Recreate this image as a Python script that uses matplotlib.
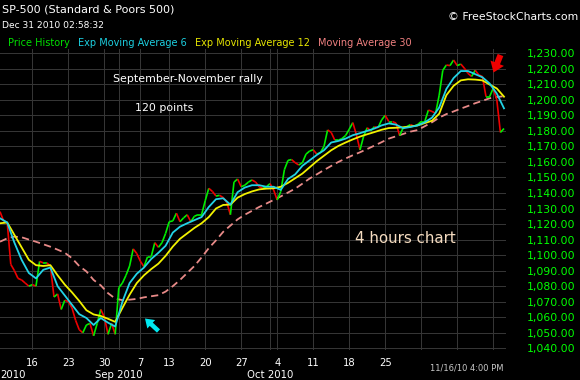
import numpy as np
import pandas as pd
import matplotlib
matplotlib.use("Agg")
import matplotlib.pyplot as plt
from matplotlib.collections import LineCollection
from matplotlib.patches import FancyArrow
from matplotlib.transforms import IdentityTransform

# ---------------- data ----------------
# S&P 500, 4-hour bars (2 bars per trading day), first bar = Aug 9 2010 (afternoon)
price = [1128, 1122, 1121, 1094, 1090, 1085, 1084, 1082, 1080, 1081,
         1080, 1096, 1095, 1095, 1093, 1073, 1075, 1065, 1071, 1070,
         1066, 1058, 1052, 1050, 1055, 1056, 1048, 1056, 1065, 1060,
         1049, 1056, 1049, 1079, 1082, 1087, 1093, 1104, 1101, 1096,
         1092.5, 1099, 1099, 1108, 1105, 1108, 1114, 1121.5, 1122, 1127,
         1121.5, 1124, 1126, 1121.5, 1125, 1126, 1126, 1135, 1143, 1141,
         1138, 1138.5, 1137, 1134, 1126, 1147, 1149, 1144, 1145, 1147,
         1148.4, 1147, 1144, 1143, 1144, 1146, 1142, 1135.5, 1141, 1155,
         1161, 1161.5, 1159.5, 1158, 1159.5, 1165, 1167, 1167.8, 1165, 1166,
         1170, 1180.6, 1179, 1174, 1174, 1175, 1177, 1181, 1185.3, 1177.5,
         1167.7, 1176.5, 1182, 1180, 1182.7, 1182, 1187, 1190, 1186, 1186,
         1185, 1177, 1182, 1182.7, 1184, 1183, 1184, 1186, 1186, 1193.4,
         1192.5, 1191.3, 1203, 1219, 1222.4, 1222, 1225.6, 1222, 1223, 1220.3,
         1217, 1215, 1219, 1216, 1215, 1202, 1202, 1207.4, 1200, 1179,
         1181.5]

# moving averages, one value per trading day (every second bar)
ema6 = [1123.7, 1121, 1108, 1097, 1088.5, 1085, 1090.5, 1092, 1080, 1074,
        1068, 1062, 1059.5, 1055, 1059.5, 1056.5, 1054, 1070, 1082, 1088,
        1092, 1097.5, 1101.5, 1106, 1114.5, 1118.3, 1120.5, 1122.5, 1124.5, 1131,
        1136, 1136.6, 1132.5, 1140.5, 1143.5, 1145, 1145, 1144, 1144, 1142,
        1149, 1152, 1157.5, 1161, 1164.5, 1167.5, 1172.5, 1173.5, 1175, 1177.2,
        1178.5, 1180, 1181.5, 1183.5, 1184.8, 1184, 1181.7, 1182.5, 1183.5, 1185.5,
        1188.5, 1195, 1207, 1214, 1218.5, 1218.5, 1216.5, 1214.5, 1210.5, 1204,
        1194.5]
ema12 = [1120.5, 1121, 1113, 1105, 1097, 1093.5, 1093, 1093.5, 1087, 1081,
         1076, 1070.5, 1064.5, 1061.8, 1060.8, 1059, 1057, 1066, 1074.5, 1082,
         1087, 1091, 1094.5, 1099.5, 1105.5, 1110.5, 1114, 1117.5, 1120.5, 1124.5,
         1130, 1132.3, 1132.5, 1137, 1139.3, 1141, 1142.3, 1142.8, 1143, 1144,
         1146.5, 1149.5, 1152.5, 1156.5, 1160.5, 1164, 1167.5, 1170.3, 1172.5, 1174.5,
         1176.3, 1177.8, 1179.2, 1180.7, 1181.8, 1182, 1182.3, 1182.8, 1183.5, 1185,
         1186.5, 1191, 1203, 1209, 1212.5, 1213.2, 1213, 1212.5, 1209.8, 1207.3,
         1202]
ma30 = [1108.6, 1110.8, 1111.9, 1111.5, 1110, 1108.6, 1107, 1105.4, 1103.5, 1101.5,
        1098, 1093, 1089.5, 1084, 1080.5, 1075.5, 1072, 1071, 1071.3, 1071.8,
        1072.8, 1073.5, 1074.2, 1076.5, 1080, 1084, 1088.5, 1093, 1098.5, 1104.5,
        1109.5, 1115, 1119, 1123, 1126, 1128.5, 1131, 1133.2, 1135.5, 1137.8,
        1140.3, 1142.8, 1146, 1149.3, 1152, 1154.8, 1157.4, 1160, 1162.2, 1164.3,
        1166.2, 1168.3, 1170.5, 1172.7, 1175, 1176.5, 1178, 1179.5, 1180.5, 1183,
        1185.5, 1188.5, 1190.8, 1192.5, 1194.3, 1196, 1197.8, 1199.3, 1201, 1201.8,
        1202.3]

week_ticks = ["2010-08-16", "2010-08-23", "2010-08-30", "2010-09-07", "2010-09-13",
              "2010-09-20", "2010-09-27", "2010-10-04", "2010-10-11", "2010-10-18",
              "2010-10-25", "2010-11-01", "2010-11-08", "2010-11-15"]
week_labels = ["16", "23", "30", "7", "13", "20", "27", "4", "11", "18", "25", "", "", ""]
month_starts = ["2010-09-01", "2010-10-01"]
month_labels = ["Sep 2010", "Oct 2010"]
y_ticks = list(range(1040, 1231, 10))

legend_labels = ["Price History", "Exp Moving Average 6", "Exp Moving Average 12", "Moving Average 30"]

# ---------------- calendar -> bar positions ----------------
days = pd.bdate_range("2010-08-09", "2010-11-16")
days = days[days != pd.Timestamp("2010-09-06")]  # Labor Day
day_index = {d.strftime("%Y-%m-%d"): i for i, d in enumerate(days)}


def bar_pos(date):
    return 2 * day_index[date] - 1


# ---------------- figure ----------------
W, H = 580, 380
BG = "#000000"
GRID = "#353535"
C_UP, C_DN = "#00ee00", "#ee0000"
C_EMA6, C_EMA12, C_MA30 = "#22d3e6", "#f2f200", "#e88a88"
FONT = "DejaVu Sans"
plt.rcParams["font.family"] = FONT

fig = plt.figure(figsize=(W / 100, H / 100), dpi=100, facecolor=BG)


def fx(x):
    return x / W


def fy(y):
    return 1 - y / H


ax_l, ax_r, ax_t, ax_b = 0, 506, 49, 350
ax = fig.add_axes([fx(ax_l), fy(ax_b), fx(ax_r - ax_l), (ax_b - ax_t) / H])
ax.set_facecolor(BG)

# price line coloured by direction
xb = np.arange(len(price))
pts = np.column_stack([xb, price])
segs = np.stack([pts[:-1], pts[1:]], axis=1)
cols = [C_UP if b >= a else C_DN for a, b in zip(price[:-1], price[1:])]
ax.add_collection(LineCollection(segs, colors=cols, linewidths=1.2, zorder=3))

xd = np.arange(len(ema6)) * 2
ax.plot(np.arange(len(ma30)) * 2, ma30, color=C_MA30, lw=1.3, dashes=(4, 2.4), zorder=2)
ax.plot(np.arange(len(ema12)) * 2, ema12, color=C_EMA12, lw=1.3, zorder=4)
ax.plot(xd, ema6, color=C_EMA6, lw=1.3, zorder=5)

ax.set_xlim(0, ax_r / 3.6)
ax.set_ylim(1038.9, 1232.7)

# axes / grid
wpos = [bar_pos(d) for d in week_ticks]
mpos = [bar_pos(d) for d in month_starts]
ax.set_xticks(wpos)
ax.set_xticklabels(week_labels)
ax.set_xticks(mpos, minor=True)
ax.set_yticks(y_ticks)
ax.set_yticklabels([f"{v:,.2f}" for v in y_ticks])
ax.yaxis.tick_right()
ax.grid(True, which="both", color=GRID, lw=0.72)
ax.set_axisbelow(True)
ax.tick_params(axis="y", length=0, pad=15, labelsize=7.8, labelcolor="#00ff00")
ax.tick_params(axis="x", which="both", length=0, pad=6, labelsize=7.2, labelcolor="#ffffff")
for s in ax.spines.values():
    s.set_visible(False)

for p, lab in zip(mpos, month_labels):
    ax.text(p, -0.083, lab, transform=ax.get_xaxis_transform(), ha="center", va="center",
            color="white", fontsize=7.3)
fig.text(fx(0), fy(375), "2010", ha="left", va="center", color="white", fontsize=7.3)

# header texts
fig.text(fx(2), fy(10), "SP-500 (Standard & Poors 500)", color="white", fontsize=8.0,
         ha="left", va="center")
fig.text(fx(2), fy(25), "Dec 31 2010 02:58:32", color="white", fontsize=6.6,
         ha="left", va="center")
fig.text(fx(578), fy(17), "© FreeStockCharts.com", color="white", fontsize=7.8,
         ha="right", va="center")
leg_x = [8, 78, 195, 318]
leg_c = ["#00e000", "#1ccfe0", "#e6e600", "#f08080"]
for x, lab, c in zip(leg_x, legend_labels, leg_c):
    fig.text(fx(x), fy(43), lab, color=c, fontsize=7.0, ha="left", va="center")

fig.text(fx(504), fy(368), "11/16/10 4:00 PM", color="#c8c8c8", fontsize=6.0,
         ha="right", va="center")

# annotations
fig.text(fx(188), fy(79), "September-November rally", color="white", fontsize=7.95,
         ha="center", va="center")
fig.text(fx(164), fy(108), "120 points", color="white", fontsize=7.9,
         ha="center", va="center")
fig.text(fx(405), fy(239), "4 hours chart", color="#f5dcc0", fontsize=10.9,
         ha="center", va="center")

# arrows (display pixels, origin bottom-left)
fig.add_artist(FancyArrow(158.5, H - 331, -13.5, 12.5, width=4.5, head_width=11.5,
                          head_length=8.5, length_includes_head=True,
                          color="#00e8f0", lw=0, zorder=10, transform=IdentityTransform()))
fig.add_artist(FancyArrow(500.5, H - 55, -7.0, -17.5, width=6, head_width=14.5,
                          head_length=10, length_includes_head=True,
                          color="#f00000", lw=0, zorder=10, transform=IdentityTransform()))

fig.savefig("out.png", dpi=100, facecolor=BG)
